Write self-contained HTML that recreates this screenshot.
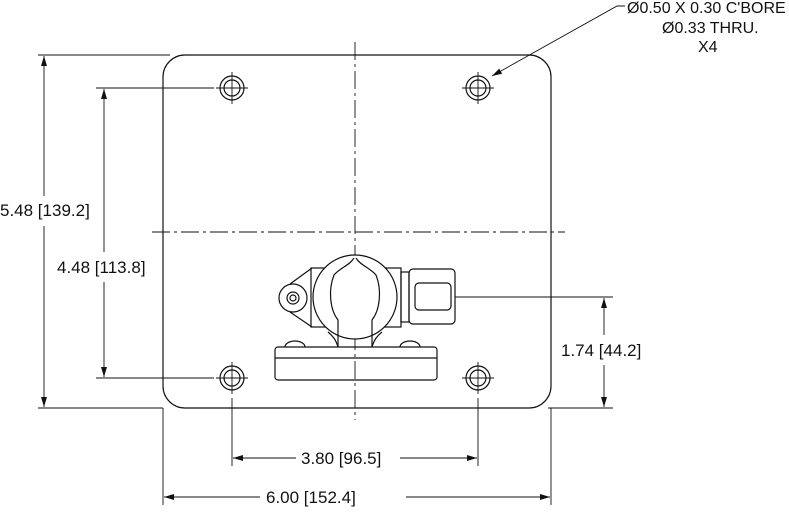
<!DOCTYPE html>
<html><head><style>body{margin:0;background:#fff}svg{display:block}text{font-family:"Liberation Sans",sans-serif;font-size:17px;fill:#111}.c{font-size:16px}</style></head>
<body>
<svg width="789" height="512" viewBox="0 0 789 512" xmlns="http://www.w3.org/2000/svg">
<defs><marker id="a" markerWidth="10" markerHeight="6" refX="10" refY="3" orient="auto" markerUnits="userSpaceOnUse"><path d="M0,0 L10,3 L0,6z" fill="#111"/></marker></defs>
<g stroke="#111" fill="none" stroke-width="1.2">
<rect x="163" y="55" width="388" height="353" rx="22"/>
<path d="M355 42 V420" stroke-dasharray="18,4,3,4" stroke-width="0.9"/>
<path d="M152 232 H565" stroke-dasharray="18,4,3,4" stroke-width="0.9"/>
<g><circle cx="232" cy="88" r="12"/><circle cx="232" cy="88" r="8"/><path d="M216 88H248M232 72V104" stroke-width="0.9"/></g>
<g><circle cx="478" cy="88" r="12"/><circle cx="478" cy="88" r="8"/><path d="M462 88H494M478 72V104" stroke-width="0.9"/></g>
<g><circle cx="232" cy="378" r="12"/><circle cx="232" cy="378" r="8"/><path d="M216 378H248M232 362V394" stroke-width="0.9"/></g>
<g><circle cx="478" cy="378" r="12"/><circle cx="478" cy="378" r="8"/><path d="M462 378H494M478 362V394" stroke-width="0.9"/></g>
<path d="M38 55H170M38 408H163M96 88H214M96 378H214M455 297H613M548 408H613M232 398V466M478 398V466M163 408V505M551 408V505" stroke-width="0.9"/>
<path d="M44 196V56" marker-end="url(#a)" stroke-width="0.9"/><path d="M44 226V407" marker-end="url(#a)" stroke-width="0.9"/>
<path d="M104 252V89" marker-end="url(#a)" stroke-width="0.9"/><path d="M104 282V377" marker-end="url(#a)" stroke-width="0.9"/>
<path d="M604 335V298" marker-end="url(#a)" stroke-width="0.9"/><path d="M604 365V407" marker-end="url(#a)" stroke-width="0.9"/>
<path d="M296 458H233" marker-end="url(#a)" stroke-width="0.9"/><path d="M400 458H477" marker-end="url(#a)" stroke-width="0.9"/>
<path d="M260 497H164" marker-end="url(#a)" stroke-width="0.9"/><path d="M406 497H550" marker-end="url(#a)" stroke-width="0.9"/>
<path d="M625 6H617L492 76" marker-end="url(#a)" stroke-width="0.9"/>
<rect x="275" y="347" width="162" height="33" rx="3"/>
<path d="M275 358H437"/>
<path d="M285 347a10 6 0 0 1 20 0M400 347a10 6 0 0 1 20 0"/>
<circle cx="293" cy="298" r="14"/><circle cx="293" cy="298" r="6"/><circle cx="293" cy="298" r="3"/>
<path d="M290 284L312 268M290 312L312 327"/>
<rect x="311" y="268" width="90" height="59"/>
<circle cx="355" cy="297" r="42" fill="#fff"/>
<path d="M338 347V320C330 310 328 290 334 275C340 268 350 265 354 258M372 347V320C380 310 382 290 376 275C370 268 360 265 356 258"/>
<path d="M338 347C336 340 333 336 328 332M372 347C374 340 377 336 382 332"/>
<rect x="401" y="272" width="8" height="50"/>
<rect x="409" y="269" width="46" height="55" rx="4"/>
<rect x="415" y="283" width="36" height="27" rx="4"/>
</g>
<text x="0" y="216">5.48 [139.2]</text>
<text x="57" y="273">4.48 [113.8]</text>
<text x="561" y="356">1.74 [44.2]</text>
<text x="301" y="464">3.80 [96.5]</text>
<text x="266" y="503">6.00 [152.4]</text>
<text class="c" x="627" y="13">Ø0.50 X 0.30 C'BORE</text>
<text class="c" x="662" y="33">Ø0.33 THRU.</text>
<text class="c" x="698" y="52">X4</text>
</svg>
</body></html>
